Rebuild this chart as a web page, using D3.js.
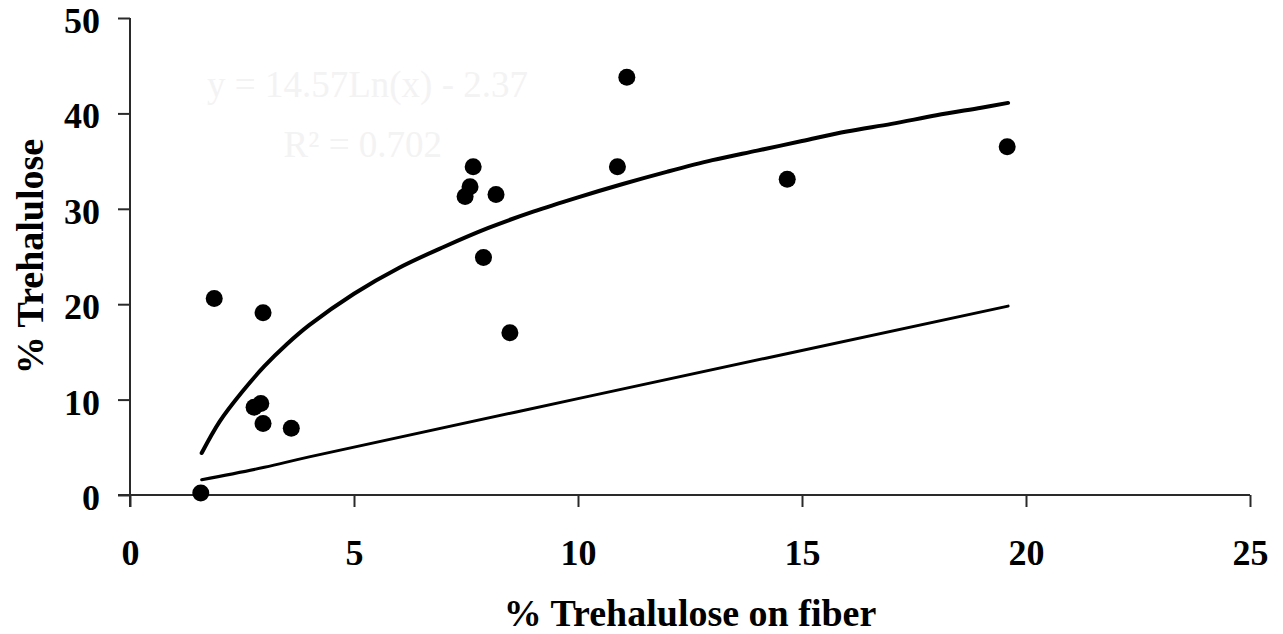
<!DOCTYPE html>
<html>
<head>
<meta charset="utf-8">
<script src="https://cdn.jsdelivr.net/npm/d3@7/dist/d3.min.js"></script>
<style>
  html, body { margin: 0; padding: 0; background: #fff; }
  svg { display: block; }
  text { font-family: "Liberation Serif", "Times New Roman", serif; }
</style>
</head>
<body>
<svg id="chart" width="1283" height="634"></svg>
<script>
// Measured samples: % trehalulose on fiber vs % trehalulose
const sampleX = [1.58, 1.88, 2.77, 2.92, 2.97, 2.97, 3.60, 7.48, 7.59, 7.66, 7.89, 8.17, 8.48, 10.88, 11.09, 14.67, 19.58];
const sampleY = [0.2, 20.6, 9.2, 9.6, 7.5, 19.1, 7.0, 31.3, 32.3, 34.4, 24.9, 31.5, 17.0, 34.4, 43.8, 33.1, 36.5];

// Logarithmic trend line, sampled along x
const trendX = [1.6, 2, 2.5, 3, 3.5, 4, 5, 6, 7, 8, 9, 10, 11, 12, 13, 14, 15, 16, 17, 18, 19, 19.6];
const trendY = [4.4, 7.7, 10.8, 13.5, 15.8, 17.8, 21.1, 23.8, 26.0, 28.0, 29.7, 31.2, 32.6, 33.9, 35.1, 36.1, 37.1, 38.1, 38.9, 39.8, 40.6, 41.1];

// 1:1 reference line
const refX = [1.6, 3, 4, 10, 19.6];
const refY = [1.6, 2.9, 4.0, 10.1, 19.8];

// Axis ticks
const xTicks = [0, 5, 10, 15, 20, 25];
const yTicks = [0, 10, 20, 30, 40, 50];

// Trend equation (printed very faintly)
const equationLines = ["y = 14.57Ln(x) - 2.37", "R² = 0.702"];

const svg = d3.select("#chart");
const x = d3.scaleLinear().domain([0, 25]).range([130, 1250]);
const y = d3.scaleLinear().domain([0, 50]).range([495, 18]);

const axisColor = "#2a2a2a";

// Faint equation text
svg.append("text")
  .attr("x", 528).attr("y", 97)
  .attr("text-anchor", "end")
  .attr("font-size", 37)
  .attr("fill", "#f3f3f3")
  .text(equationLines[0]);
svg.append("text")
  .attr("x", 442).attr("y", 157)
  .attr("text-anchor", "end")
  .attr("font-size", 37)
  .attr("fill", "#f3f3f3")
  .text(equationLines[1]);

// X axis
const xAxis = d3.axisBottom(x).tickValues(xTicks).tickSizeInner(12).tickSizeOuter(0).tickPadding(30);
const gx = svg.append("g").attr("transform", `translate(0,${y(0)})`).call(xAxis);
gx.select(".domain").attr("stroke", axisColor).attr("stroke-width", 2)
  .attr("d", `M${x(0) - 12},0H${x(25)}`);
gx.selectAll(".tick line").attr("stroke", axisColor).attr("stroke-width", 2);
gx.selectAll(".tick text")
  .attr("font-family", "'Liberation Serif', 'Times New Roman', serif")
  .attr("font-weight", "bold").attr("font-size", 36).attr("fill", "#000")
  .attr("dy", "0.71em").attr("y", 44);

// Y axis
const yAxis = d3.axisLeft(y).tickValues(yTicks).tickSizeInner(12).tickSizeOuter(0).tickPadding(18);
const gy = svg.append("g").attr("transform", `translate(${x(0)},0)`).call(yAxis);
gy.select(".domain").attr("stroke", axisColor).attr("stroke-width", 2)
  .attr("d", `M0,${y(50)}V${y(0) + 12}`);
gy.selectAll(".tick line").attr("stroke", axisColor).attr("stroke-width", 2);
gy.selectAll(".tick text")
  .attr("font-family", "'Liberation Serif', 'Times New Roman', serif")
  .attr("font-weight", "bold").attr("font-size", 36).attr("fill", "#000")
  .attr("x", -30).attr("y", 3);

// Axis titles
svg.append("text")
  .attr("x", 690).attr("y", 626)
  .attr("text-anchor", "middle")
  .attr("font-weight", "bold").attr("font-size", 38)
  .text("% Trehalulose on fiber");
svg.append("text")
  .attr("transform", `translate(43,${(y(0) + y(50)) / 2}) rotate(-90)`)
  .attr("text-anchor", "middle")
  .attr("font-weight", "bold").attr("font-size", 38)
  .text("% Trehalulose");

// Lines
const line = d3.line().x(d => x(d[0])).y(d => y(d[1])).curve(d3.curveCatmullRom);
svg.append("path")
  .attr("d", line(d3.zip(trendX, trendY)))
  .attr("fill", "none").attr("stroke", "#000").attr("stroke-width", 4)
  .attr("stroke-linecap", "round");
svg.append("path")
  .attr("d", line(d3.zip(refX, refY)))
  .attr("fill", "none").attr("stroke", "#000").attr("stroke-width", 3)
  .attr("stroke-linecap", "round");

// Sample points
svg.append("g").selectAll("circle")
  .data(d3.zip(sampleX, sampleY))
  .join("circle")
  .attr("cx", d => x(d[0]))
  .attr("cy", d => y(d[1]))
  .attr("r", 8.5)
  .attr("fill", "#000");
</script>
</body>
</html>
